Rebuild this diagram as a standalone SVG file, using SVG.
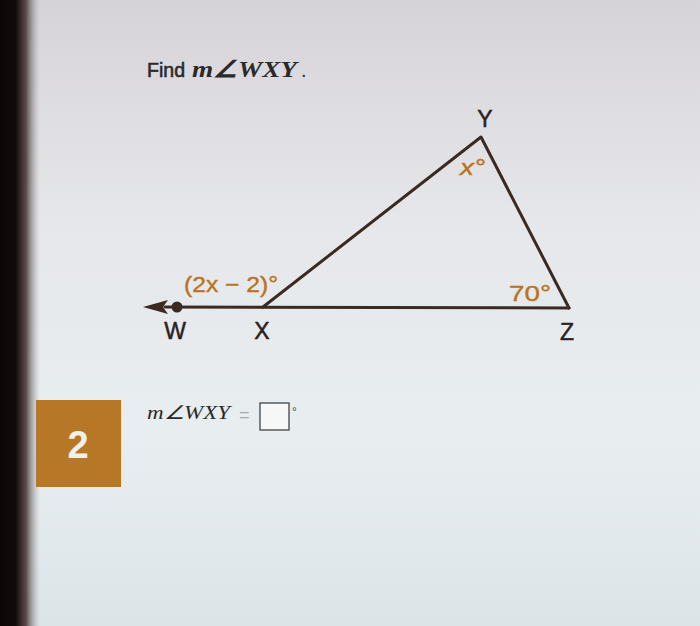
<svg xmlns="http://www.w3.org/2000/svg" width="700" height="626" viewBox="0 0 700 626">
<defs>
<linearGradient id="bg" x1="0" y1="0" x2="0" y2="1">
<stop offset="0" stop-color="#d6d3d8"/>
<stop offset="0.35" stop-color="#e6e7ea"/>
<stop offset="0.7" stop-color="#e8eef0"/>
<stop offset="1" stop-color="#dde4e8"/>
</linearGradient>
<linearGradient id="edge" x1="0" y1="0" x2="1" y2="0">
<stop offset="0" stop-color="#0a0606"/>
<stop offset="0.4" stop-color="#140c0c"/>
<stop offset="0.65" stop-color="#5a4c4c"/>
<stop offset="1" stop-color="#a9a8ad" stop-opacity="0"/>
</linearGradient>
<style>
.ln{stroke:#3a2a22;stroke-width:3;fill:none;stroke-linecap:round;stroke-linejoin:round}
.lbl{font-family:"Liberation Sans",Arial,sans-serif;font-size:23px;fill:#2b2323;stroke:#2b2323;stroke-width:0.5;text-anchor:middle}
.ang{font-family:"Liberation Sans",Arial,sans-serif;font-size:22px;fill:#b8741e;stroke:#b8741e;stroke-width:0.4}
.math{font-family:"Liberation Serif","Times New Roman",serif;font-style:italic;fill:#2a2a2a}
</style>
</defs>
<rect width="700" height="626" fill="url(#bg)"/>
<rect width="40" height="626" fill="url(#edge)"/>
<g id="title">
<text x="147" y="77" font-family="Liberation Sans,Arial,sans-serif" font-size="20" fill="#2a2a2a" stroke="#2a2a2a" stroke-width="0.6" textLength="38" lengthAdjust="spacingAndGlyphs">Find</text>
<text x="192" y="77" class="math" font-size="23" font-weight="bold" textLength="105" lengthAdjust="spacingAndGlyphs">m∠WXY</text>
<text x="301" y="77" font-family="Liberation Sans,Arial,sans-serif" font-size="20" fill="#2a2a2a">.</text>
</g>
<g id="connectors">
<line class="ln" x1="165" y1="307" x2="569" y2="308"/>
<polyline class="ln" points="263,307 481,137 569,308"/>
<path d="M143,307 L168,300 L163,307 L168,314 Z" fill="#3a2a22"/>
</g>
<g id="W"><circle cx="177" cy="307" r="5.5" fill="#3a2a22"/><text class="lbl" x="175" y="339">W</text></g>
<g id="X"><text class="lbl" x="262" y="339">X</text></g>
<g id="Y"><text class="lbl" x="485" y="127">Y</text></g>
<g id="Z"><text class="lbl" x="567" y="340">Z</text></g>
<g id="angles">
<text class="ang" x="184" y="292" textLength="94" lengthAdjust="spacingAndGlyphs">(2x − 2)°</text>
<text class="ang" x="460" y="175" font-style="italic" textLength="25" lengthAdjust="spacingAndGlyphs">x°</text>
<text class="ang" x="509" y="301" textLength="42" lengthAdjust="spacingAndGlyphs">70°</text>
</g>
<g id="badge">
<rect x="36" y="400" width="85" height="87" fill="#b67826"/>
<text x="78" y="458" font-family="Liberation Sans,Arial,sans-serif" font-size="38" font-weight="bold" fill="#f2f0ea" text-anchor="middle">2</text>
</g>
<g id="answer">
<text x="147" y="419" class="math" font-size="19" textLength="83" lengthAdjust="spacingAndGlyphs">m∠WXY</text>
<text x="239" y="421" font-family="Liberation Sans,Arial,sans-serif" font-size="18" fill="#a8aaad">=</text>
<rect x="260" y="403" width="29" height="27" fill="#f6f8f8" stroke="#5a5a5a" stroke-width="1.5"/>
<text x="292" y="416" font-family="Liberation Sans,Arial,sans-serif" font-size="12" fill="#444">°</text>
</g>
</svg>
